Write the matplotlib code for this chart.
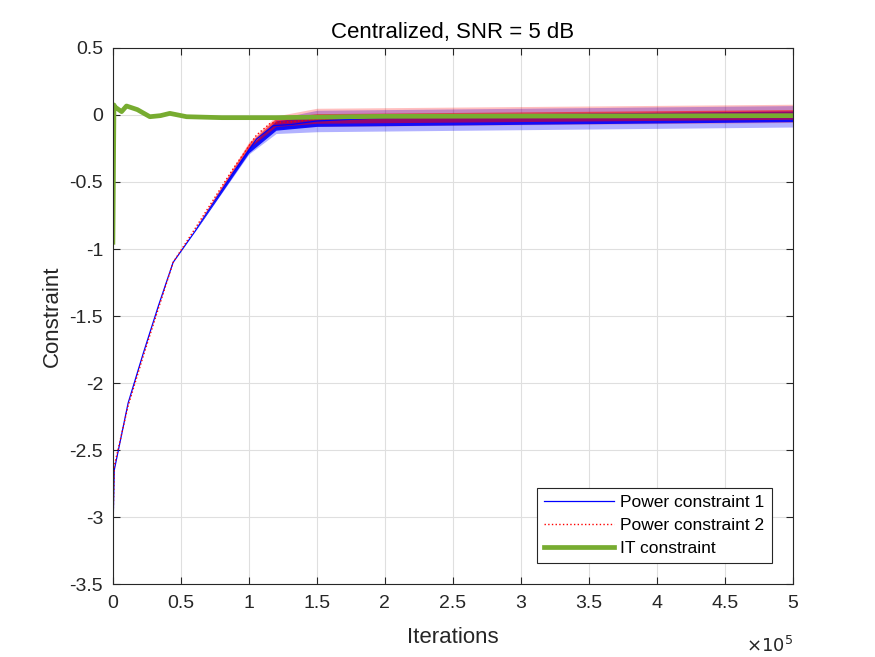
import numpy as np
import matplotlib.pyplot as plt

plt.rcParams['font.family'] = ['Liberation Sans', 'DejaVu Sans']

# values
iters_p1 = [0, 1000, 11200, 22300, 33300, 44300, 60300, 88500, 105600,
            117900, 132000, 150000, 200000, 300000, 500000]
power1 = [-3.15, -2.65, -2.15, -1.78, -1.43, -1.10, -0.87, -0.43, -0.18,
          -0.08, -0.07, -0.045, -0.02, -0.012, -0.01]
iters_p2 = [0, 1000, 11200, 22300, 33300, 44300, 60300, 88500, 105600,
            116000, 132000, 150000, 200000, 300000, 500000]
power2 = [-3.10, -2.62, -2.17, -1.80, -1.45, -1.10, -0.85, -0.40, -0.15,
          -0.06, -0.05, -0.03, -0.01, -0.005, 0.0]

# noise spread around the means
iters_noise = [60000, 100000, 120000, 150000, 500000]
dense_spread = [0.0, 0.02, 0.035, 0.04, 0.04]
spike_low = [0.0, 0.03, 0.06, 0.08, 0.08]
spike_high = [0.0, 0.03, 0.05, 0.08, 0.08]

iters_it = [0, 800, 1500, 6400, 10000, 18000, 27200, 35000, 41900, 54200,
            80000, 120000, 200000, 500000]
it_con = [-0.95, 0.075, 0.06, 0.025, 0.067, 0.04, -0.013, -0.005, 0.012,
          -0.013, -0.02, -0.02, -0.01, -0.005]

fig = plt.figure(figsize=(8.75, 6.57), dpi=100)
ax = fig.add_axes([0.129, 0.111, 0.777, 0.816])

xn = np.array(iters_noise)
m1 = np.interp(xn, iters_p1, power1)
m2 = np.interp(xn, iters_p2, power2)
lo, hi, d = np.array(spike_low), np.array(spike_high), np.array(dense_spread)
ax.fill_between(xn, m1 - lo, m1 + hi, color='#0000ff', alpha=0.3, linewidth=0)
ax.fill_between(xn, m2 - lo * 0.7, m2 + hi, color='#ff0000', alpha=0.25, linewidth=0)
ax.fill_between(xn, m1 - d, m1 + d, color='#0000ff', alpha=0.9, linewidth=0)
ax.fill_between(xn, m2 - d * 0.8, m2 + d, color='#ff0000', alpha=0.55, linewidth=0)

ax.plot(iters_p1, power1, color='#0000ff', linewidth=0.9, label='Power constraint 1')
ax.plot(iters_p2, power2, color='#ff0000', linewidth=1.0, linestyle=':',
        label='Power constraint 2')
ax.plot(iters_it, it_con, color='#77ac30', linewidth=3.4, label='IT constraint')

ax.set_xlim(0, 5e5)
ax.set_ylim(-3.5, 0.5)
ax.set_xticks(np.arange(0, 5.01e5, 0.5e5))
ax.set_xticklabels(['0', '0.5', '1', '1.5', '2', '2.5', '3', '3.5', '4', '4.5', '5'])
ax.set_yticks(np.arange(-3.5, 0.51, 0.5))
ax.set_yticklabels(['-3.5', '-3', '-2.5', '-2', '-1.5', '-1', '-0.5', '0', '0.5'])
ax.tick_params(direction='in', labelsize=14, colors='#262626', length=5,
               top=True, right=True)
ax.tick_params(axis='x', pad=8)
ax.tick_params(axis='y', pad=7)
ax.grid(True, color='#dfdfdf', linewidth=0.8)
ax.set_axisbelow(True)
for s in ax.spines.values():
    s.set_color('#262626')
    s.set_linewidth(0.8)

ax.set_xlabel('Iterations', fontsize=16, color='#262626', labelpad=11)
ax.set_ylabel('Constraint', fontsize=16, color='#262626', labelpad=5)
ax.set_title('Centralized, SNR = 5 dB', fontsize=16, color='black', pad=7)
ax.text(1.0, -0.115, r'$\times10^{5}$', transform=ax.transAxes, ha='right',
        va='center', fontsize=13, color='#262626')

leg = ax.legend(loc='lower right', bbox_to_anchor=(0.969, 0.039), fontsize=12.5,
                fancybox=False, framealpha=1, edgecolor='#262626',
                borderaxespad=0, handlelength=4.0, handletextpad=0.4,
                labelspacing=0.45, borderpad=0.4)
leg.get_frame().set_linewidth(0.8)

plt.savefig('out.png', dpi=100)
